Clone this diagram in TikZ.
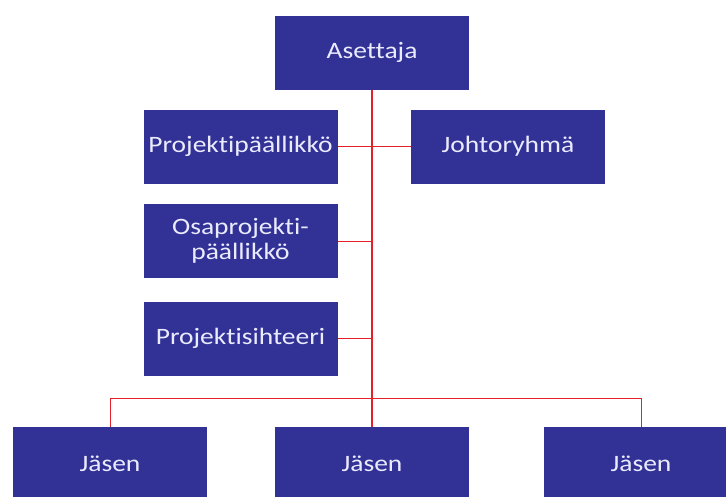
\documentclass[tikz,border=0pt]{standalone}
\usepackage{fontspec}
\setmainfont{Carlito}[FakeStretch=1.17,Ligatures=NoCommon]
\usepackage{xcolor}
\usepackage{tikz}
\usetikzlibrary{positioning,calc}
\definecolor{orgBlue}{RGB}{50,50,150}
\definecolor{orgRed}{RGB}{228,32,40}
\tikzset{
  roleBox/.style={
    rectangle,
    draw=none,
    fill=orgBlue,
    text=white!92!blue,
    minimum width=194pt,
    minimum height=74pt,
    align=center,
    font=\fontsize{23.5}{25}\selectfont
  },
  mainLine/.style={
    draw=orgRed,
    line width=1.6pt
  },
  branchLine/.style={
    draw=orgRed,
    line width=0.8pt
  }
}

\begin{document}
\begin{tikzpicture}[x=1pt,y=1pt]
        \useasboundingbox (0,0) rectangle (726,-496);
        \node[roleBox] (asettaja) at (372,-52.5) {Asettaja};
        \node[roleBox] (projpaal) at (240.5,-146.5) {Projektipäällikkö};
        \node[roleBox] (johto) at (508,-146.5) {Johtoryhmä};
        \node[roleBox] (osaproj) at (240.5,-241) {Osaprojekti-\\päällikkö};
        \node[roleBox] (sihteeri) at (240.5,-338.5) {Projektisihteeri};
        \node[roleBox] (jasen1) at (110,-464) {Jäsen};
        \node[roleBox] (jasen2) at (372,-464) {Jäsen};
        \node[roleBox] (jasen3) at (641,-464) {Jäsen};

        \draw[branchLine] (projpaal.east) -- (johto.west);
        \draw[branchLine] (osaproj.east) -- (osaproj.east -| asettaja.south);
        \draw[branchLine] (sihteeri.east) -- (sihteeri.east -| asettaja.south);
        \draw[branchLine] (jasen1.north) -- ++(0,28) -| (jasen3.north);
        \draw[mainLine] (asettaja.south) -- (jasen2.north);
    \end{tikzpicture}
\end{document}
